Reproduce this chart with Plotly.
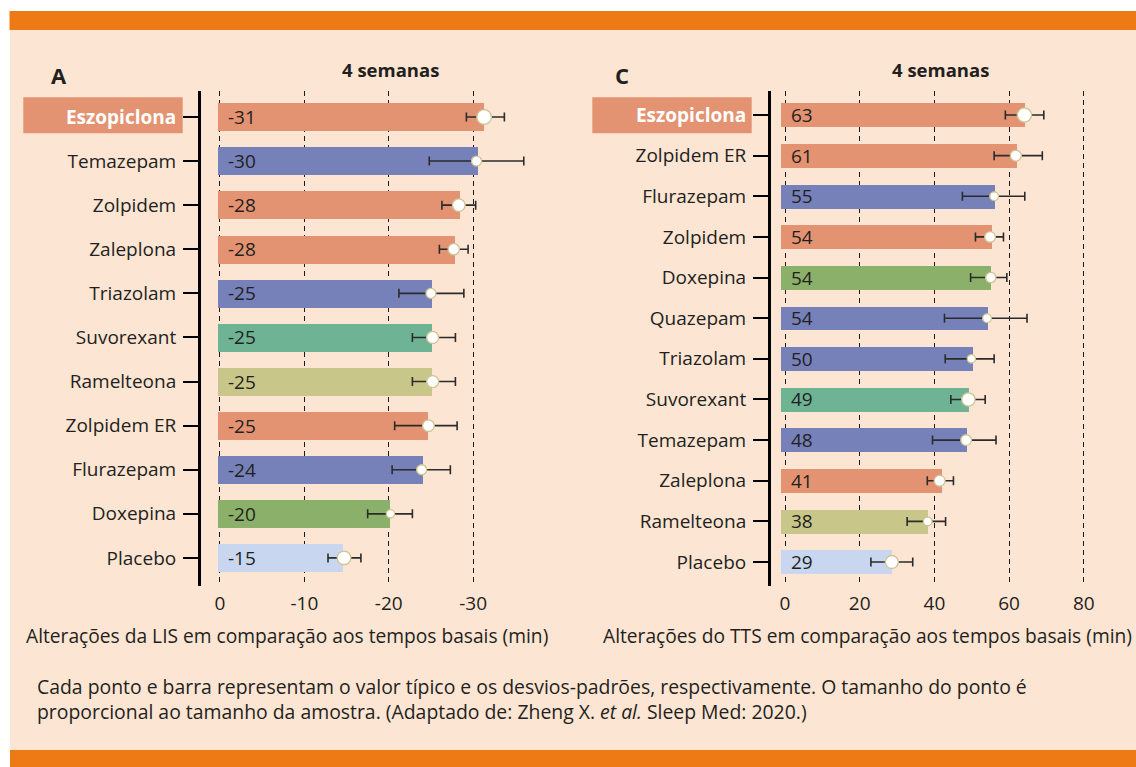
import plotly.graph_objects as go

# ---------------- data ----------------
lis_drugs = ["Eszopiclona", "Temazepam", "Zolpidem", "Zaleplona", "Triazolam", "Suvorexant",
             "Ramelteona", "Zolpidem ER", "Flurazepam", "Doxepina", "Placebo"]
lis_class = ["z", "benzo", "z", "z", "benzo", "orexin", "melatonin", "z", "benzo", "doxepin", "placebo"]
lis_labels = ["-31", "-30", "-28", "-28", "-25", "-25", "-25", "-25", "-24", "-20", "-15"]
lis_bar = [-31.3, -30.6, -28.4, -27.8, -25.1, -25.1, -25.1, -24.6, -24.0, -20.2, -14.6]
lis_point = [-31.3, -30.4, -28.3, -27.7, -25.0, -25.2, -25.2, -24.7, -23.9, -20.2, -14.7]
lis_err_low = [-28.9, -24.8, -26.3, -26.0, -21.1, -22.5, -22.5, -21.3, -20.5, -17.6, -12.7]
lis_err_high = [-33.4, -36.0, -30.3, -29.4, -28.8, -27.6, -27.6, -28.7, -27.4, -22.9, -16.6]
lis_sample = [14.7, 10.0, 12.7, 11.3, 10.0, 12.0, 12.0, 11.7, 10.0, 8.3, 13.7]
lis_ticks = [0, -10, -20, -30]

tts_drugs = ["Eszopiclona", "Zolpidem ER", "Flurazepam", "Zolpidem", "Doxepina", "Quazepam",
             "Triazolam", "Suvorexant", "Temazepam", "Zaleplona", "Ramelteona", "Placebo"]
tts_class = ["z", "z", "benzo", "z", "doxepin", "benzo", "benzo", "orexin", "benzo", "z", "melatonin", "placebo"]
tts_labels = ["63", "61", "55", "54", "54", "54", "50", "49", "48", "41", "38", "29"]
tts_bar = [64.3, 62.1, 56.2, 55.4, 55.2, 54.4, 50.3, 49.3, 48.7, 42.0, 38.3, 28.6]
tts_point = [64.1, 61.8, 56.0, 54.9, 55.1, 54.1, 49.9, 49.1, 48.5, 41.4, 38.2, 28.6]
tts_err_low = [59.0, 56.0, 47.5, 51.0, 49.7, 42.7, 42.9, 44.4, 39.5, 38.1, 32.7, 23.0]
tts_err_high = [69.3, 68.9, 64.2, 58.5, 59.4, 64.8, 56.0, 53.6, 56.5, 45.1, 43.0, 34.2]
tts_sample = [14.3, 11.0, 8.7, 10.7, 10.3, 8.7, 8.3, 13.3, 10.7, 11.0, 8.7, 13.0]
tts_ticks = [0, 20, 40, 60, 80]

highlight = "Eszopiclona"

# ---------------- style ----------------
OX, OY = 0, 0
W, H = 1136, 767
FONT = "Open Sans"
TXT = "#231f20"
PEACH = "#FDE5D3"
ORANGE = "#EE7A16"
CLASS_COLORS = {
    "z": "#E39371",
    "benzo": "#7581B8",
    "orexin": "#6EB394",
    "melatonin": "#C9C68A",
    "doxepin": "#8BB06A",
    "placebo": "#C8D6F0",
}
# bars are drawn starting a hair to the left of the zero gridline
BAR_START_A = 0.24
BAR_START_C = -1.07


def px(x):
    return (x - OX) / W


def py(y):
    return 1 - (y - OY) / H


fig = go.Figure()


def add_panel(drugs, classes, labels, bar, point, lo, hi, sample, xa, ya, bar_width, xs, base):
    fig.add_trace(go.Bar(
        y=drugs, x=[v - base for v in bar], base=base, orientation="h", width=bar_width,
        marker=dict(color=[CLASS_COLORS[c] for c in classes], line=dict(width=0)),
        xaxis=xa, yaxis=ya, hoverinfo="skip", showlegend=False,
    ))
    fig.add_trace(go.Scatter(
        y=drugs, x=point, mode="markers", opacity=1,
        marker=dict(size=sample, color="#FFFFFF", opacity=1,
                    line=dict(color="#CEC594", width=1.3)),
        error_x=dict(type="data", symmetric=False,
                     array=[abs(h - p) for h, p in zip(hi, point)],
                     arrayminus=[abs(p - l) for l, p in zip(lo, point)],
                     color="#2b2b2b", thickness=1.6, width=4.5),
        xaxis=xa, yaxis=ya, hoverinfo="skip", showlegend=False,
    ))
    # bar-value labels reading from the zero line
    for d, t in zip(drugs, labels):
        fig.add_annotation(x=0, y=d, xref=xa, yref=ya, text=t, showarrow=False,
                           xanchor="left", yanchor="middle", xshift=xs,
                           font=dict(family=FONT, size=19, color=TXT))


add_panel(lis_drugs, lis_class, lis_labels, lis_bar, lis_point, lis_err_low, lis_err_high,
          lis_sample, "x", "y", 0.635, 6, BAR_START_A)
add_panel(tts_drugs, tts_class, tts_labels, tts_bar, tts_point, tts_err_low, tts_err_high,
          tts_sample, "x2", "y2", 0.59, 4, BAR_START_C)


def ticktext(drugs):
    out = []
    for d in drugs:
        if d == highlight:
            out.append("<span style='color:white'><b>%s</b></span>" % d)
        else:
            out.append(d)
    return out


xcommon = dict(showgrid=True, gridcolor="#1a1a1a", gridwidth=1.4, griddash="5px,4px",
               zeroline=False, showline=False, ticks="",
               tickfont=dict(family=FONT, size=19, color=TXT), ticklabelstandoff=4)
ycommon = dict(type="category", showgrid=False, zeroline=False, showline=True,
               linecolor="black", linewidth=3, ticks="outside", ticklen=15, tickwidth=2,
               tickcolor="black", tickfont=dict(family=FONT, size=19, color=TXT),
               ticklabelstandoff=3)

fig.update_layout(
    width=W, height=H, autosize=False,
    margin=dict(l=0, r=0, t=0, b=0),
    paper_bgcolor="white", plot_bgcolor="rgba(0,0,0,0)",
    font=dict(family=FONT, color=TXT),
    bargap=0,
    xaxis=dict(domain=[px(201), px(555)], range=[2.25, -39.7], tickvals=lis_ticks,
               ticktext=[str(v) for v in lis_ticks], anchor="y", **xcommon),
    yaxis=dict(domain=[py(585.7), py(90.7)], range=[10.63, -0.596], anchor="x",
               categoryorder="array", categoryarray=lis_drugs,
               tickvals=lis_drugs, ticktext=ticktext(lis_drugs), **ycommon),
    xaxis2=dict(domain=[px(771), px(1120)], range=[-3.75, 89.7], tickvals=tts_ticks,
                ticktext=[str(v) for v in tts_ticks], anchor="y2", **xcommon),
    yaxis2=dict(domain=[py(586), py(90.7)], range=[11.59, -0.598], anchor="x2",
                categoryorder="array", categoryarray=tts_drugs,
                tickvals=tts_drugs, ticktext=ticktext(tts_drugs), **ycommon),
)

shapes = [
    dict(type="rect", xref="paper", yref="paper", x0=px(10), x1=1, y0=py(750), y1=py(30),
         fillcolor=PEACH, line=dict(width=0), layer="below"),
    dict(type="rect", xref="paper", yref="paper", x0=px(9.5), x1=1, y0=py(30), y1=py(11),
         fillcolor=ORANGE, line=dict(width=0), layer="below"),
    dict(type="rect", xref="paper", yref="paper", x0=px(10), x1=1, y0=0, y1=py(750),
         fillcolor=ORANGE, line=dict(width=0), layer="below"),
    dict(type="rect", xref="paper", yref="paper", x0=px(23.3), x1=px(182.7), y0=py(133.3), y1=py(97.3),
         fillcolor="#E39371", line=dict(width=0), layer="below"),
    dict(type="rect", xref="paper", yref="paper", x0=px(592.3), x1=px(751.7), y0=py(133.3), y1=py(97.3),
         fillcolor="#E39371", line=dict(width=0), layer="below"),
]
fig.update_layout(shapes=shapes)


def ann(x, y, text, size, anchor="center", bold=False):
    fig.add_annotation(x=px(x), y=py(y), xref="paper", yref="paper",
                       text=("<b>%s</b>" % text) if bold else text,
                       showarrow=False, xanchor=anchor, yanchor="middle",
                       font=dict(family=FONT, size=size, color=TXT), align="left")


ann(59, 74.5, "A", 22, bold=True)
ann(621.5, 74.5, "C", 22, bold=True)
ann(390.5, 70, "4 semanas", 18.5, bold=True)
ann(940.5, 70, "4 semanas", 18.5, bold=True)
ann(287, 635, "Alterações da LIS em comparação aos tempos basais (min)", 19.2)
ann(1134, 635, "Alterações do TTS em comparação aos tempos basais (min)", 19.2, anchor="right")
ann(35, 686, "Cada ponto e barra representam o valor típico e os desvios-padrões, respectivamente. O tamanho do ponto é", 19.4, anchor="left")
ann(35, 711, "proporcional ao tamanho da amostra. (Adaptado de: Zheng X. <i>et al.</i> Sleep Med: 2020.)", 19.4, anchor="left")

fig.write_html("out.html", config={"displayModeBar": False},
               post_script="document.body.style.margin='0px';")
